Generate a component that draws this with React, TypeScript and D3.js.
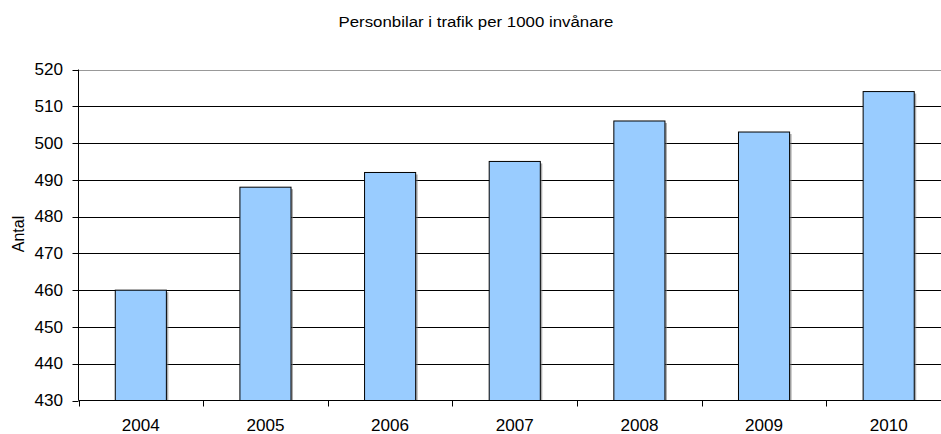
import React from "react";
import * as d3 from "d3";

const years = ["2004", "2005", "2006", "2007", "2008", "2009", "2010"];
const values = [460, 488, 492, 495, 506, 503, 514];
const yTicks = [430, 440, 450, 460, 470, 480, 490, 500, 510, 520];
const title = "Personbilar i trafik per 1000 invånare";
const yLabel = "Antal";

export default function App() {
  const W = 941, H = 434;
  const left = 78.5, right = 951, top = 69.5, bottom = 400.5;
  const x = d3.scaleBand<string>().domain(years).range([left, right]).paddingInner(0.59).paddingOuter(0.295);
  const band = d3.scaleBand<string>().domain(years).range([left, right]);
  const y = d3.scaleLinear().domain([430, 520]).range([bottom, top]);
  const font = "'Liberation Sans', Arial, sans-serif";
  const fs = 16;
  const sx = 1.07;
  return (
    <svg width={W} height={H} style={{ position: "absolute", left: 0, top: 0, background: "#fff" }} fontFamily={font}>
      <text transform={`translate(476,27) scale(1.1,1)`} textAnchor="middle" fontSize={15.3} fill="#000">{title}</text>
      {yTicks.map((t) => (
        <g key={t}>
          {t !== 430 && (
            <line x1={left} x2={right} y1={Math.round(y(t)) + 0.5} y2={Math.round(y(t)) + 0.5}
              stroke={t === 520 ? "#999" : "#000"} strokeWidth={1} />
          )}
          <line x1={left - 6} x2={left} y1={Math.round(y(t)) + 0.5} y2={Math.round(y(t)) + 0.5} stroke="#000" />
          <text transform={`translate(63,${y(t)}) scale(${sx},1)`} dy="0.36em" textAnchor="end" fontSize={fs} fill="#000">{t}</text>
        </g>
      ))}
      {years.map((yr, i) => {
        const bx = x(yr)!;
        const bw = x.bandwidth();
        const by = y(values[i]);
        return (
          <g key={yr}>
            <rect x={bx + 2} y={by + 2} width={bw} height={bottom - by - 2} fill="#777" opacity={0.6} />
            <rect x={bx} y={by} width={bw} height={bottom - by} fill="#99CCFF" stroke="#000" strokeWidth={1} />
            <text transform={`translate(${band(yr)! + band.bandwidth() / 2},430.5) scale(${sx},1)`} textAnchor="middle" fontSize={fs} fill="#000">{yr}</text>
          </g>
        );
      })}
      <line x1={left} x2={right} y1={bottom} y2={bottom} stroke="#000" />
      {years.map((yr) => (
        <line key={"t" + yr} x1={Math.round(band(yr)!) + 0.5} x2={Math.round(band(yr)!) + 0.5} y1={bottom} y2={bottom + 6} stroke="#000" />
      ))}
      <line x1={left} x2={left} y1={top} y2={bottom} stroke="#000" />
      <text transform={`translate(23.5,234) rotate(-90)`} textAnchor="middle" fontSize={fs} fill="#000">{yLabel}</text>
    </svg>
  );
}
